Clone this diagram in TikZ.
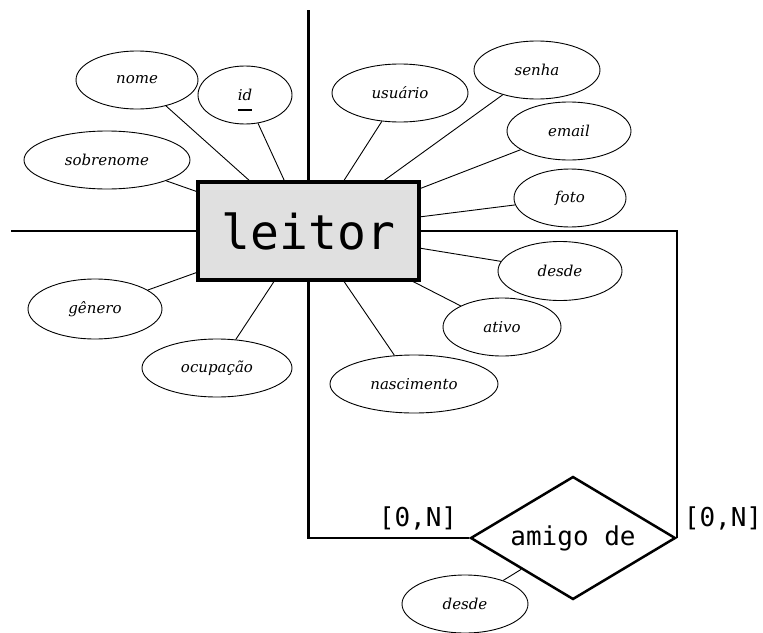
\documentclass[tikz,border=0pt]{standalone}
\usepackage{fontspec}
\setmainfont{DejaVu Serif}
\setmonofont{DejaVu Sans Mono}
\usetikzlibrary{shapes.geometric}
\definecolor{entfill}{HTML}{E0E0E0}
% key attribute: text with a lowered underline
\newcommand{\idline}[1]{\setbox0\hbox{#1}\rlap{\rule[-11pt]{\wd0}{1.6pt}}\box0\rule{0pt}{21pt}}
\begin{document}
\begin{tikzpicture}[x=1pt,y=-1pt,
  attr/.style={ellipse,draw,line width=0.9pt,inner sep=0pt,
    font=\fontsize{15}{17}\selectfont\itshape},
  entity/.style={draw,line width=3.5pt,fill=entfill,inner sep=0pt,
    minimum width=221pt,minimum height=98pt,
    font=\fontsize{48}{52}\ttfamily},
  relation/.style={diamond,draw,line width=2.5pt,inner sep=0pt,aspect=1.667,
    minimum width=205pt,minimum height=123pt,
    font=\fontsize{26}{30}\ttfamily},
  card/.style={font=\fontsize{26}{30}\ttfamily,inner sep=0pt},
  link/.style={line width=0.9pt},
  rel/.style={line width=2.5pt}]
\useasboundingbox (0,0) rectangle (763,632);

% entity and relationship
\node[entity] (leitor) at (308.5,231) {leitor};
\node[relation] (amigo) at (573,538) {amigo de};

% attributes
\node[attr,minimum width=122pt,minimum height=58pt] (nome) at (137,80) {nome};
\node[attr,minimum width=94pt,minimum height=58pt] (id) at (245,95) {\idline{id}};
\node[attr,minimum width=166pt,minimum height=58pt] (sobrenome) at (107,160) {sobrenome};
\node[attr,minimum width=134pt,minimum height=60pt] (genero) at (95,309) {gênero};
\node[attr,minimum width=150pt,minimum height=58pt] (ocupacao) at (217,368) {ocupação};
\node[attr,minimum width=136pt,minimum height=58pt] (usuario) at (400,93) {usuário};
\node[attr,minimum width=126pt,minimum height=58pt] (senha) at (537,70) {senha};
\node[attr,minimum width=124pt,minimum height=58pt] (email) at (569,131) {email};
\node[attr,minimum width=112pt,minimum height=58pt] (foto) at (570,198) {foto};
\node[attr,minimum width=124pt,minimum height=59pt] (desde) at (560,271) {desde};
\node[attr,minimum width=118pt,minimum height=58pt] (ativo) at (502,327) {ativo};
\node[attr,minimum width=168pt,minimum height=58pt] (nascimento) at (414,384) {nascimento};
\node[attr,minimum width=126pt,minimum height=58pt] (desdeamigo) at (465,604) {desde};

% attachment points on the entity border
\coordinate (cNome) at (251,182);
\coordinate (cId) at (285,182);
\coordinate (cSobre) at (198,192);
\coordinate (cGen) at (198,272);
\coordinate (cOcup) at (275,280);
\coordinate (cUsu) at (343,182);
\coordinate (cSenha) at (382,182);
\coordinate (cEmail) at (419,189);
\coordinate (cFoto) at (419,217);
\coordinate (cDesde) at (419,248);
\coordinate (cAtivo) at (410,280);
\coordinate (cNasc) at (343,280);

% attribute links
\draw[link] (nome) -- (cNome);
\draw[link] (id) -- (cId);
\draw[link] (sobrenome) -- (cSobre);
\draw[link] (genero) -- (cGen);
\draw[link] (ocupacao) -- (cOcup);
\draw[link] (usuario) -- (cUsu);
\draw[link] (senha) -- (cSenha);
\draw[link] (email) -- (cEmail);
\draw[link] (foto) -- (cFoto);
\draw[link] (desde) -- (cDesde);
\draw[link] (ativo) -- (cAtivo);
\draw[link] (nascimento) -- (cNasc);
\draw[link] (desdeamigo) -- (amigo.south west);

% axis-like strokes and relationship lines
\coordinate (topEnd) at (308.5,10);
\coordinate (leftEnd) at (11,231);
\draw[rel] (topEnd) -- (leitor.north);
\draw[rel] (leftEnd) -- (leitor.west);
\draw[rel] (leitor.south) |- (amigo.west);
\draw[rel] (leitor.east) -| (amigo.east);

% cardinalities
\node[card] (cardL) at (418,518) {[0,N]};
\node[card] (cardR) at (723,518) {[0,N]};
\end{tikzpicture}
\end{document}
